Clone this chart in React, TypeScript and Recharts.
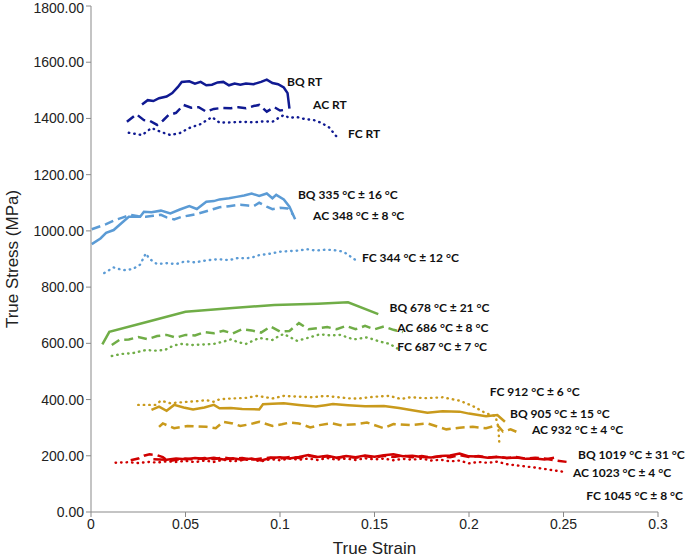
import { LineChart, Line, XAxis, YAxis, ReferenceDot } from 'recharts';

type Pt = [number, number];

const xTicks = [0, 0.05, 0.1, 0.15, 0.2, 0.25, 0.3];
const yTicks = [0, 200, 400, 600, 800, 1000, 1200, 1400, 1600, 1800];

// room temperature
const bqRT: Pt[] = [[0.027,1450],[0.03,1465],[0.033,1462],[0.036,1472],[0.04,1478],[0.043,1490],[0.046,1512],[0.048,1530],[0.052,1532],[0.055,1524],[0.058,1530],[0.061,1518],[0.064,1520],[0.067,1528],[0.07,1530],[0.073,1518],[0.076,1524],[0.079,1520],[0.082,1524],[0.086,1522],[0.09,1530],[0.093,1538],[0.096,1526],[0.099,1522],[0.102,1510],[0.104,1490],[0.105,1435]];
const acRT: Pt[] = [[0.019,1388],[0.024,1415],[0.028,1394],[0.031,1392],[0.035,1377],[0.038,1392],[0.041,1412],[0.045,1420],[0.049,1448],[0.053,1438],[0.057,1440],[0.061,1424],[0.065,1434],[0.069,1437],[0.074,1436],[0.078,1440],[0.082,1436],[0.086,1444],[0.089,1448],[0.093,1424],[0.097,1440],[0.1,1428],[0.102,1430],[0.104,1436]];
const fcRT: Pt[] = [[0.02,1349],[0.027,1341],[0.032,1366],[0.037,1352],[0.042,1341],[0.047,1348],[0.052,1366],[0.058,1380],[0.064,1405],[0.068,1385],[0.074,1386],[0.08,1388],[0.086,1386],[0.092,1390],[0.096,1388],[0.1,1405],[0.102,1412],[0.105,1402],[0.109,1405],[0.113,1398],[0.118,1394],[0.122,1384],[0.126,1368],[0.13,1335]];

// ~340 °C
const bq335: Pt[] = [[0.0004,953],[0.005,973],[0.008,993],[0.012,1003],[0.015,1021],[0.02,1050],[0.026,1050],[0.028,1068],[0.032,1066],[0.037,1072],[0.042,1062],[0.047,1076],[0.052,1088],[0.056,1078],[0.061,1104],[0.065,1106],[0.068,1112],[0.073,1116],[0.077,1121],[0.081,1126],[0.085,1133],[0.089,1124],[0.093,1133],[0.096,1116],[0.098,1128],[0.102,1112],[0.105,1086],[0.108,1041]];
const ac348: Pt[] = [[0.0004,1006],[0.008,1024],[0.013,1039],[0.017,1048],[0.021,1057],[0.025,1052],[0.029,1050],[0.033,1054],[0.037,1057],[0.04,1048],[0.044,1041],[0.048,1050],[0.052,1055],[0.056,1060],[0.061,1070],[0.065,1078],[0.068,1084],[0.073,1088],[0.079,1093],[0.083,1090],[0.086,1088],[0.089,1100],[0.093,1086],[0.096,1077],[0.1,1082],[0.104,1080],[0.107,1057]];
const fc344: Pt[] = [[0.007,850],[0.012,870],[0.017,860],[0.022,864],[0.026,880],[0.029,920],[0.031,900],[0.035,882],[0.04,885],[0.045,882],[0.05,892],[0.055,888],[0.06,894],[0.065,898],[0.068,899],[0.073,896],[0.078,904],[0.082,902],[0.086,907],[0.089,914],[0.094,918],[0.1,926],[0.105,928],[0.11,930],[0.114,935],[0.119,930],[0.124,933],[0.128,932],[0.132,928],[0.135,920],[0.14,896]];

// ~680 °C
const bq678: Pt[] = [[0.006,596],[0.0097,641],[0.03,677],[0.05,712],[0.075,726],[0.097,736],[0.12,741],[0.136,746],[0.152,704]];
const ac686: Pt[] = [[0.011,594],[0.015,612],[0.02,614],[0.025,622],[0.03,615],[0.035,626],[0.04,630],[0.045,620],[0.05,630],[0.055,628],[0.06,640],[0.065,636],[0.07,645],[0.075,635],[0.08,650],[0.085,646],[0.09,638],[0.095,660],[0.1,642],[0.105,644],[0.11,672],[0.115,650],[0.12,654],[0.125,658],[0.13,650],[0.135,662],[0.14,650],[0.145,662],[0.15,650],[0.155,660],[0.16,648],[0.165,640]];
const fc687: Pt[] = [[0.011,555],[0.016,562],[0.022,565],[0.029,576],[0.034,574],[0.039,576],[0.043,590],[0.047,598],[0.054,594],[0.06,596],[0.065,598],[0.07,606],[0.074,614],[0.078,604],[0.082,598],[0.089,619],[0.096,612],[0.1,628],[0.102,633],[0.109,609],[0.115,620],[0.121,632],[0.127,628],[0.132,630],[0.139,614],[0.146,621],[0.153,606],[0.158,598],[0.162,582]];

// ~910 °C
const bq905: Pt[] = [[0.032,363],[0.036,375],[0.04,360],[0.044,381],[0.049,372],[0.054,365],[0.06,372],[0.065,381],[0.068,369],[0.074,370],[0.08,366],[0.089,365],[0.091,383],[0.096,385],[0.102,387],[0.11,381],[0.119,375],[0.124,380],[0.128,384],[0.136,380],[0.145,376],[0.155,377],[0.163,370],[0.17,362],[0.178,353],[0.186,358],[0.195,357],[0.2,350],[0.209,341],[0.215,345],[0.219,321]];
const fc912: Pt[] = [[0.025,381],[0.034,381],[0.037,396],[0.042,387],[0.051,392],[0.056,394],[0.061,398],[0.065,392],[0.068,401],[0.075,404],[0.082,406],[0.088,413],[0.096,404],[0.102,413],[0.11,410],[0.117,408],[0.124,413],[0.131,408],[0.137,404],[0.142,404],[0.15,410],[0.158,413],[0.164,402],[0.169,408],[0.177,405],[0.186,408],[0.195,396],[0.202,377],[0.209,351],[0.214,341],[0.2155,303],[0.216,250]];
const ac932: Pt[] = [[0.036,303],[0.038,315],[0.044,298],[0.051,306],[0.056,304],[0.061,303],[0.066,298],[0.07,321],[0.075,315],[0.079,306],[0.084,312],[0.089,321],[0.096,306],[0.101,312],[0.105,318],[0.11,315],[0.116,301],[0.121,309],[0.127,316],[0.132,309],[0.14,312],[0.146,318],[0.155,298],[0.16,313],[0.169,309],[0.178,315],[0.188,294],[0.195,300],[0.202,303],[0.209,298],[0.215,309],[0.218,286],[0.222,294],[0.227,280]];

// ~1030 °C
const bq1019: Pt[] = [[0.033,188],[0.04,186],[0.045,190],[0.05,188],[0.055,192],[0.06,189],[0.065,193],[0.07,187],[0.075,191],[0.08,186],[0.085,190],[0.09,183],[0.095,192],[0.1,195],[0.105,190],[0.11,196],[0.115,203],[0.12,196],[0.125,200],[0.13,193],[0.135,199],[0.14,195],[0.145,201],[0.15,197],[0.155,202],[0.16,205],[0.165,198],[0.17,200],[0.175,196],[0.18,194],[0.185,199],[0.19,201],[0.195,208],[0.2,198],[0.205,197],[0.21,193],[0.215,196],[0.22,192],[0.225,194],[0.23,189],[0.235,190],[0.24,187],[0.245,193]];
const ac1023: Pt[] = [[0.021,184],[0.025,190],[0.028,200],[0.031,205],[0.035,202],[0.038,195],[0.041,180],[0.045,186],[0.05,190],[0.055,186],[0.06,192],[0.065,188],[0.07,194],[0.075,189],[0.08,192],[0.085,186],[0.09,190],[0.095,194],[0.1,190],[0.105,196],[0.11,192],[0.115,200],[0.12,194],[0.125,198],[0.13,192],[0.135,197],[0.14,193],[0.145,199],[0.15,194],[0.155,200],[0.16,196],[0.165,201],[0.17,195],[0.175,199],[0.18,194],[0.185,198],[0.19,195],[0.195,202],[0.2,196],[0.205,199],[0.21,194],[0.215,197],[0.22,192],[0.225,196],[0.23,190],[0.235,193],[0.24,190],[0.245,184],[0.252,178]];
const fc1045: Pt[] = [[0.013,175],[0.02,177],[0.025,174],[0.03,178],[0.035,176],[0.04,180],[0.045,178],[0.05,182],[0.055,177],[0.06,183],[0.065,178],[0.07,186],[0.075,180],[0.08,184],[0.085,187],[0.09,180],[0.095,188],[0.1,184],[0.105,190],[0.11,186],[0.115,190],[0.12,185],[0.125,192],[0.13,186],[0.135,190],[0.14,185],[0.145,191],[0.15,187],[0.155,190],[0.16,184],[0.165,189],[0.17,186],[0.175,190],[0.18,183],[0.185,186],[0.19,180],[0.195,183],[0.2,173],[0.205,178],[0.21,175],[0.215,179],[0.22,170],[0.225,166],[0.23,162],[0.235,158],[0.24,153],[0.245,148],[0.25,143]];

const NAVY = '#101A92';
const LBLUE = '#5B9BD5';
const GREEN = '#70AD47';
const GOLD = '#C99A1C';
const RED = '#D00000';

const SOLID = undefined;
const DASH = '9 5';
const DOT = '0.5 5';

const series = [
  { id: 'bqRT', pts: bqRT, color: NAVY, dash: SOLID },
  { id: 'acRT', pts: acRT, color: NAVY, dash: DASH },
  { id: 'fcRT', pts: fcRT, color: NAVY, dash: DOT },
  { id: 'bq335', pts: bq335, color: LBLUE, dash: SOLID },
  { id: 'ac348', pts: ac348, color: LBLUE, dash: DASH },
  { id: 'fc344', pts: fc344, color: LBLUE, dash: DOT },
  { id: 'bq678', pts: bq678, color: GREEN, dash: SOLID },
  { id: 'ac686', pts: ac686, color: GREEN, dash: DASH },
  { id: 'fc687', pts: fc687, color: GREEN, dash: DOT },
  { id: 'fc912', pts: fc912, color: GOLD, dash: DOT },
  { id: 'bq905', pts: bq905, color: GOLD, dash: SOLID },
  { id: 'ac932', pts: ac932, color: GOLD, dash: DASH },
  { id: 'fc1045', pts: fc1045, color: RED, dash: DOT },
  { id: 'ac1023', pts: ac1023, color: RED, dash: DASH },
  { id: 'bq1019', pts: bq1019, color: RED, dash: SOLID },
];

// curve labels, anchored in data coordinates (left edge of text)
const labelText = [
  'BQ RT', 'AC RT', 'FC RT',
  'BQ 335 °C ± 16 °C', 'AC 348 °C ± 8 °C', 'FC 344 °C ± 12 °C',
  'BQ 678 °C ± 21 °C', 'AC 686 °C ± 8 °C', 'FC 687 °C ± 7 °C',
  'FC 912 °C ± 6 °C', 'BQ 905 °C ± 15 °C', 'AC 932 °C ± 4 °C',
  'BQ 1019 °C ± 31 °C', 'AC 1023 °C ± 4 °C', 'FC 1045 °C ± 8 °C',
];
const labelX = [0.1037, 0.1175, 0.136, 0.1095, 0.1175, 0.1434, 0.158, 0.162, 0.162, 0.211, 0.2217, 0.2333, 0.2577, 0.255, 0.262];
const labelY = [1530, 1448, 1345, 1131, 1053, 907, 729, 658, 587, 427, 352, 292, 206, 139, 60];

const axisColor = '#898989';
const tickFont = { fontFamily: 'Liberation Sans, Arial, sans-serif', fontSize: 14, fill: '#222' };

export default function App() {
  return (
    <div style={{ position: 'absolute', left: 0, top: 0, background: '#fff' }}>
      <LineChart width={685} height={558} margin={{ top: 6, right: 27, left: 0, bottom: 0 }}>
        <XAxis
          type="number"
          dataKey="x"
          domain={[0, 0.3]}
          ticks={xTicks}
          allowDuplicatedCategory={false}
          height={46}
          stroke={axisColor}
          tickSize={5}
          tick={tickFont}
          label={{
            content: (p: any) => (
              <text x={p.viewBox.x + p.viewBox.width / 2} y={p.viewBox.y + 42} textAnchor="middle"
                style={{ fontFamily: 'Liberation Sans, Arial, sans-serif', fontSize: 17, fill: '#222' }}>
                True Strain
              </text>
            ),
          }}
        />
        <YAxis
          type="number"
          dataKey="y"
          domain={[0, 1800]}
          ticks={yTicks}
          width={91}
          stroke={axisColor}
          tickSize={5}
          tick={tickFont}
          tickFormatter={(v: number) => v.toFixed(2)}
          label={{
            content: (p: any) => {
              const cx = 18;
              const cy = p.viewBox.y + p.viewBox.height / 2;
              return (
                <text x={cx} y={cy} textAnchor="middle" transform={`rotate(-90 ${cx} ${cy})`}
                  style={{ fontFamily: 'Liberation Sans, Arial, sans-serif', fontSize: 17, fill: '#222' }}>
                  True Stress (MPa)
                </text>
              );
            },
          }}
        />
        {series.map((s) => (
          <Line
            key={s.id}
            data={s.pts.map(([x, y]) => ({ x, y }))}
            dataKey="y"
            type="linear"
            stroke={s.color}
            strokeWidth={s.dash === DOT ? 2.4 : 2.5}
            strokeDasharray={s.dash}
            strokeLinecap={s.dash === DOT ? 'round' : 'butt'}
            dot={false}
            activeDot={false}
            isAnimationActive={false}
          />
        ))}
        {labelText.map((t, i) => (
          <ReferenceDot
            key={t}
            x={labelX[i]}
            y={labelY[i]}
            r={0}
            ifOverflow="visible"
            shape={(p: any) => (
              <text x={p.cx} y={p.cy} dominantBaseline="central"
                style={{ fontFamily: 'Lato, sans-serif', fontWeight: 700, fontSize: 12, fill: '#111' }}>
                {t}
              </text>
            )}
          />
        ))}
      </LineChart>
    </div>
  );
}
